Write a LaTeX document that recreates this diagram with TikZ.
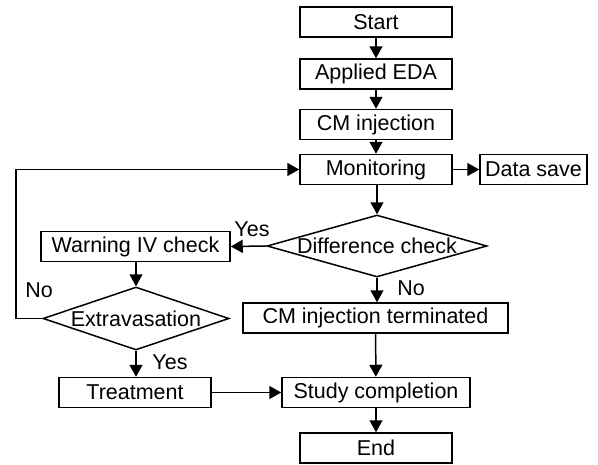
\documentclass[tikz,border=0pt]{standalone}
\usepackage{fontspec}
\setmainfont{Liberation Sans}
\usetikzlibrary{shapes.geometric,arrows.meta}
\begin{document}
\begin{tikzpicture}[x=1pt,y=-1pt,
  every node/.style={font=\fontsize{21.5}{25}\selectfont},
  box/.style={draw, line width=1.5pt, rectangle, inner sep=0pt, minimum height=30pt},
  dia/.style={draw, line width=1.5pt, diamond, inner sep=0pt},
  lbl/.style={inner sep=0pt},
  arr/.style={line width=1.5pt, -{Triangle[length=12pt,width=13pt]}}]
\useasboundingbox (0,0) rectangle (598,464);
\node[box, minimum width=152pt] (start) at (376,22) {Start};
\node[box, minimum width=152pt] (eda) at (376,74) {Applied EDA};
\node[box, minimum width=152pt] (cm) at (376,124.5) {CM injection};
\node[box, minimum width=152pt] (mon) at (376,169.5) {Monitoring};
\node[box, minimum width=107pt] (save) at (533.5,169.5) {Data save};
\node[dia, minimum width=220pt, minimum height=62pt, label={center:Difference check}] (diff) at (377,246) {};
\node[box, minimum width=189pt] (warn) at (135.5,246.5) {Warning IV check};
\node[dia, minimum width=186pt, minimum height=63pt, label={center:Extravasation}] (extr) at (136,318.5) {};
\node[box, minimum width=152pt] (treat) at (135,392.5) {Treatment};
\node[box, minimum width=265pt] (term) at (375.5,318) {CM injection terminated};
\node[box, minimum width=188pt] (study) at (376,392.5) {Study completion};
\node[box, minimum width=152pt] (end) at (376,448) {End};
\coordinate (loopc) at (16,318.5);
\draw[arr] (start) -- (eda);
\draw[arr] (eda) -- (cm);
\draw[arr] (cm) -- (mon);
\draw[arr] (mon) -- (save);
\draw[arr] (mon.south -| diff.north) -- (diff.north);
\draw[arr] (diff.west) -- (warn.east);
\draw[arr] (diff.south) -- (diff.south |- term.north);
\draw[arr] (warn.south -| extr.north) -- (extr.north);
\draw[arr] (extr.south) -- (extr.south |- treat.north);
\draw[arr] (extr.west) -- (loopc) |- (mon.west);
\draw[arr] (term) -- (study);
\draw[arr] (treat) -- (study);
\draw[arr] (study) -- (end);
\node[lbl] (yes1) at (252,229) {Yes};
\node[lbl] (no1) at (411,288) {No};
\node[lbl] (no2) at (39,290) {No};
\node[lbl] (yes2) at (170,362) {Yes};
\end{tikzpicture}
\end{document}
